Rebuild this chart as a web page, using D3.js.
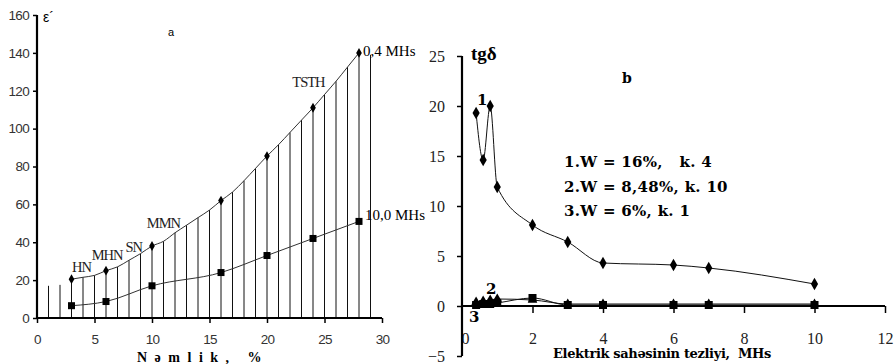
<!DOCTYPE html>
<html lang="en">
<head>
    <meta charset="UTF-8">
    <title>Nəmlik və tezlik</title>
    <script src="https://d3js.org/d3.v7.min.js"></script>
    <style>
        body { margin: 0; background: #fff; }
        svg { display: block; }
    </style>
</head>
<body>
    <div id="chart-container"></div>

    <script>
        // --- panel a: dielectric constant vs moisture ---
        const moistX = [3, 6, 10, 16, 20, 24, 28];
        const eps04 = [20.5, 25, 38, 62, 85.5, 111, 140];     // 0,4 MHs
        const eps10 = [6.5, 8.7, 17, 24, 33, 42, 51];          // 10,0 MHs
        // vertical hatch lines at each percent, tops
        const dropX = [1, 2, 3, 4, 5, 6, 7, 8, 9, 10, 11, 12, 13, 14, 15,
                       16, 17, 18, 19, 20, 21, 22, 23, 24, 25, 26, 27, 28, 29];
        const dropTop = [17, 17.5, 20.5, 21.5, 22.5, 25, 27, 30.5, 34, 38, 40.5, 45, 49, 53, 57,
                         62, 66.5, 72.5, 79, 85.5, 91.5, 98, 104.5, 111, 118, 125, 132.5, 140, 139];
        const soilLabels = [
            { t: "HN", x: 3.05, y: 24.5 },
            { t: "MHN", x: 4.75, y: 30.5 },
            { t: "SN", x: 7.7, y: 35 },
            { t: "MMN", x: 9.55, y: 47.5 },
            { t: "TSTH", x: 22.2, y: 122 }
        ];
        const aTicksX = [0, 5, 10, 15, 20, 25, 30];
        const aTicksY = [0, 20, 40, 60, 80, 100, 120, 140, 160];

        // --- panel b: tg delta vs frequency ---
        const freq = [0.4, 0.6, 0.8, 1.0, 2, 3, 4, 6, 7, 10];
        const tg1 = [19.3, 14.6, 20.0, 11.9, 8.1, 6.4, 4.3, 4.1, 3.8, 2.2];
        const tg2 = [0.4, 0.5, 0.6, 0.7, 0.6, 0.2, 0.2, 0.2, 0.2, 0.2];
        const tg3 = [0.1, 0.2, 0.2, 0.3, 0.8, 0.1, 0.1, 0.1, 0.1, 0.1];
        const legendRows = ["1.W = 16%,\u00a0\u00a0 k. 4", "2.W = 8,48%, k. 10", "3.W = 6%, k. 1"];
        const bTicksX = [0, 2, 4, 6, 8, 10, 12];
        const bTicksY = [-5, 0, 5, 10, 15, 20, 25];

        const svg = d3.select("#chart-container")
            .append("svg")
            .attr("width", 896)
            .attr("height", 364);

        // ================= panel a =================
        const xa = d3.scaleLinear().domain([0, 30]).range([37, 382]);
        const ya = d3.scaleLinear().domain([0, 160]).range([318, 15]);
        const ga = svg.append("g");

        // hatch lines
        ga.selectAll(".drop")
            .data(dropX)
            .enter()
            .append("line")
            .attr("x1", d => xa(d))
            .attr("x2", d => xa(d))
            .attr("y1", ya(0))
            .attr("y2", (d, i) => ya(dropTop[i]))
            .attr("stroke", "#111")
            .attr("stroke-width", 1);

        // upper curve follows the hatch tops from 3 % to 28 %
        const upper = dropX.map((d, i) => [d, dropTop[i]]).filter(p => p[0] >= 3 && p[0] <= 28);
        const lineA = d3.line().x(d => xa(d[0])).y(d => ya(d[1])).curve(d3.curveMonotoneX);
        ga.append("path")
            .attr("d", lineA(upper))
            .attr("fill", "none")
            .attr("stroke", "#333")
            .attr("stroke-width", 1);

        ga.append("path")
            .attr("d", lineA(moistX.map((d, i) => [d, eps10[i]])))
            .attr("fill", "none")
            .attr("stroke", "#333")
            .attr("stroke-width", 1);

        ga.selectAll(".p04")
            .data(moistX)
            .enter()
            .append("path")
            .attr("transform", (d, i) => `translate(${xa(d)},${ya(eps04[i])})`)
            .attr("d", d3.symbol(d3.symbolDiamond, 28))
            .attr("fill", "#000");

        ga.selectAll(".p10")
            .data(moistX)
            .enter()
            .append("rect")
            .attr("x", d => xa(d) - 3.5)
            .attr("y", (d, i) => ya(eps10[i]) - 3.5)
            .attr("width", 7)
            .attr("height", 7)
            .attr("fill", "#000");

        // axes
        const axA = d3.axisBottom(xa).tickValues(aTicksX).tickSize(5).tickPadding(11);
        const ayA = d3.axisLeft(ya).tickValues(aTicksY).tickSize(4).tickPadding(4);
        const gax = ga.append("g").attr("transform", `translate(0,${ya(0)})`).call(axA);
        const gay = ga.append("g").attr("transform", `translate(${xa(0)},0)`).call(ayA);
        [gax, gay].forEach(g => {
            g.select(".domain").style("stroke", "#000").style("stroke-width", "2.2px");
            g.selectAll(".tick line").style("stroke", "#000").style("stroke-width", "1.5px");
            g.selectAll(".tick text")
                .attr("fill", "#333")
                .style("font-family", "'Liberation Sans', Arial, sans-serif")
                .style("font-size", "13.5px")
                .style("letter-spacing", "-0.7px");
        });
        gax.select(".domain").attr("d", `M${xa(0)},0H${xa(30)}`);
        gay.select(".domain").attr("d", `M0,${ya(160)}V${ya(0)}`);

        ga.selectAll(".soil")
            .data(soilLabels)
            .enter()
            .append("text")
            .attr("x", d => xa(d.x))
            .attr("y", d => ya(d.y))
            .style("font-family", "'Liberation Serif', 'Times New Roman', serif")
            .style("font-size", "14.5px")
            .style("letter-spacing", "-1px")
            .attr("fill", "#222")
            .text(d => d.t);

        ga.append("text")
            .attr("x", xa(28) + 4).attr("y", ya(eps04[6]) + 3)
            .style("font-family", "'Liberation Serif', serif")
            .style("font-size", "15px")
            .text("0,4 MHs");
        ga.append("text")
            .attr("x", xa(28) + 6).attr("y", ya(eps10[6]) - 1)
            .style("font-family", "'Liberation Serif', serif")
            .style("font-size", "15px")
            .text("10,0 MHs");

        ga.append("text")
            .attr("x", 43).attr("y", 22)
            .style("font-family", "'Liberation Sans', sans-serif")
            .style("font-size", "14px")
            .text("\u03b5\u00b4");
        ga.append("text")
            .attr("x", 168).attr("y", 36)
            .style("font-family", "'Liberation Sans', sans-serif")
            .style("font-size", "11px")
            .text("a");
        ga.append("text")
            .attr("x", 137).attr("y", 362)
            .style("font-family", "'Liberation Serif', serif")
            .style("font-weight", "bold")
            .style("font-size", "14px")
            .style("letter-spacing", "7.5px")
            .style("white-space", "pre")
            .text("Nəmlik, %");

        // ================= panel b =================
        const xb = d3.scaleLinear().domain([0, 12]).range([462, 885]);
        const yb = d3.scaleLinear().domain([-5, 25]).range([356, 56]);
        const gb = svg.append("g");

        const axB = d3.axisBottom(xb).tickValues(bTicksX).tickSize(7).tickPadding(20);
        const ayB = d3.axisLeft(yb).tickValues(bTicksY).tickSize(5).tickPadding(12);
        const gbx = gb.append("g").attr("transform", `translate(0,${yb(0)})`).call(axB);
        const gby = gb.append("g").attr("transform", `translate(${xb(0)},0)`).call(ayB);
        [gbx, gby].forEach(g => {
            g.select(".domain").style("stroke", "#000").style("stroke-width", "2.2px");
            g.selectAll(".tick line").style("stroke", "#000").style("stroke-width", "1.5px");
            g.selectAll(".tick text")
                .attr("fill", "#222")
                .style("font-family", "'Liberation Serif', 'Times New Roman', serif")
                .style("font-size", "16px");
        });
        gbx.select(".domain").attr("d", `M${xb(0)},0H${xb(12)}`);
        gby.select(".domain").attr("d", `M0,${yb(25)}V${yb(-5)}`);
        gbx.selectAll(".tick").filter(d => d === 0).select("line").remove();
        gbx.selectAll(".tick").filter(d => d === 0).select("text").attr("x", 3);

        const lineB = d3.line().x(d => xb(d[0])).y(d => yb(d[1])).curve(d3.curveMonotoneX);
        [tg1, tg2, tg3].forEach(s => {
            gb.append("path")
                .attr("d", lineB(freq.map((f, i) => [f, s[i]])))
                .attr("fill", "none")
                .attr("stroke", "#111")
                .attr("stroke-width", 1);
        });

        gb.selectAll(".m1")
            .data(freq)
            .enter()
            .append("path")
            .attr("transform", (d, i) => `translate(${xb(d)},${yb(tg1[i])})`)
            .attr("d", d3.symbol(d3.symbolDiamond, 45))
            .attr("fill", "#000");
        gb.selectAll(".m2")
            .data(freq)
            .enter()
            .append("path")
            .attr("transform", (d, i) => `translate(${xb(d)},${yb(tg2[i])})`)
            .attr("d", d3.symbol(d3.symbolTriangle, 40))
            .attr("fill", "#000");
        gb.selectAll(".m3")
            .data(freq)
            .enter()
            .append("rect")
            .attr("x", d => xb(d) - 4)
            .attr("y", (d, i) => yb(tg3[i]) - 4)
            .attr("width", 8)
            .attr("height", 8)
            .attr("fill", "#000");

        const serifB = "'DejaVu Serif', 'Liberation Serif', serif";
        gb.append("text")
            .attr("x", 471).attr("y", 60)
            .style("font-family", "'Liberation Serif', serif")
            .style("font-weight", "bold")
            .style("font-size", "19px")
            .text("tg\u03b4");
        gb.append("text")
            .attr("x", 622).attr("y", 83)
            .style("font-family", serifB)
            .style("font-weight", "bold")
            .style("font-size", "14px")
            .text("b");

        gb.selectAll(".leg")
            .data(legendRows)
            .enter()
            .append("text")
            .attr("x", 564)
            .attr("y", (d, i) => 167 + i * 24.5)
            .style("font-family", serifB)
            .style("font-weight", "bold")
            .style("font-size", "15px")
            .style("letter-spacing", "0.3px")
            .style("white-space", "pre")
            .text(d => d);

        [["1", 477, 105], ["2", 486, 294], ["3", 469, 322]].forEach(l => {
            gb.append("text")
                .attr("x", l[1]).attr("y", l[2])
                .style("font-family", serifB)
                .style("font-weight", "bold")
                .style("font-size", "15px")
                .text(l[0]);
        });

        gb.append("text")
            .attr("x", 553).attr("y", 358)
            .style("font-family", serifB)
            .style("font-weight", "bold")
            .style("font-size", "13px")
            .style("letter-spacing", "-0.35px")
            .style("white-space", "pre")
            .text("Elektrik sahəsinin tezliyi,  MHs");
    </script>
</body>
</html>
